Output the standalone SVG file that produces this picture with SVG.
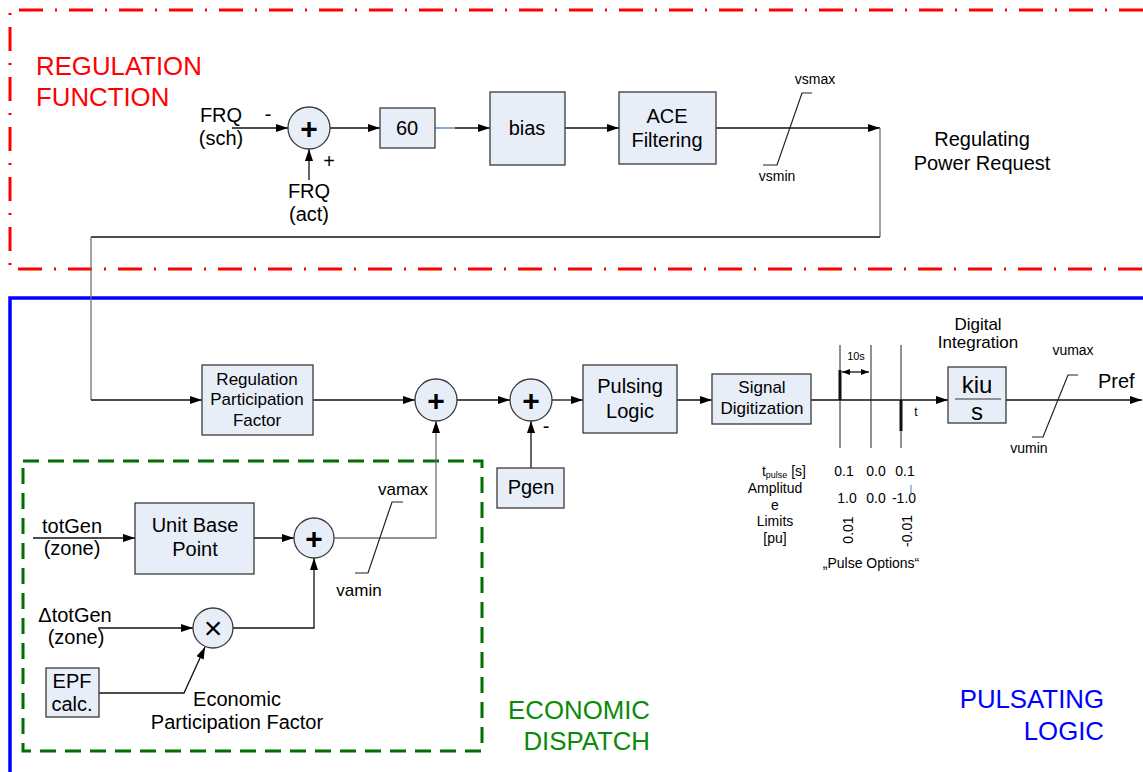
<svg xmlns="http://www.w3.org/2000/svg" width="1143" height="772" viewBox="0 0 1143 772">
<defs>
<marker id="arr" markerUnits="userSpaceOnUse" markerWidth="13" markerHeight="9" refX="12" refY="4" orient="auto"><path d="M0,0 L12,4 L0,8 z" fill="#000"/></marker>
<marker id="sarr" markerUnits="userSpaceOnUse" markerWidth="9" markerHeight="7" refX="8" refY="3" orient="auto-start-reverse"><path d="M0,0 L8,3 L0,6 z" fill="#000"/></marker>
<style>
text{font-family:"Liberation Sans",Arial,sans-serif;fill:#000}
.c{text-anchor:middle}
.f20{font-size:20px}
.f17{font-size:17px}
.f14{font-size:14px}
.box{fill:#e8eef8;stroke:#3a3a3a;stroke-width:1.3}
.ln{fill:none;stroke:#111;stroke-width:1.3}
.gl{fill:none;stroke:#707070;stroke-width:1.3}
.lim{fill:none;stroke:#222;stroke-width:1.2}
.plus{font-size:30px;font-weight:bold;text-anchor:middle}
.title{font-size:25.8px}
</style>
</defs>
<rect width="1143" height="772" fill="#fff"/>

<g id="frames">
<path d="M1143,10 H10 V269 H1143" fill="none" stroke="#ff0000" stroke-width="3" stroke-dasharray="24,12,2,12"/>
<path d="M10,772 V298 H1143" fill="none" stroke="#0000ff" stroke-width="3.5"/>
<rect x="23" y="461" width="459" height="290" fill="none" stroke="#006f00" stroke-width="3" stroke-dasharray="16,9"/>
<text class="title" x="36" y="75" style="fill:#ff0000">REGULATION</text>
<text class="title" x="36" y="106" style="fill:#ff0000">FUNCTION</text>
<text class="title" x="650" y="719" text-anchor="end" style="fill:#0a8a0a">ECONOMIC</text>
<text class="title" x="650" y="750" text-anchor="end" style="fill:#0a8a0a">DISPATCH</text>
<text class="title" x="1104" y="708" text-anchor="end" style="fill:#0000ff">PULSATING</text>
<text class="title" x="1104" y="740" text-anchor="end" style="fill:#0000ff">LOGIC</text>
</g>

<g id="connectors">
<path class="ln" d="M232,128 H288" marker-end="url(#arr)"/>
<path class="ln" d="M309,180 V149" marker-end="url(#arr)"/>
<path class="ln" d="M330,128 H380" marker-end="url(#arr)"/>
<path d="M435,128 H455" stroke="#4a7ebb" stroke-width="1.3"/>
<path class="ln" d="M455,128 H490" marker-end="url(#arr)"/>
<path class="ln" d="M565,128 H619" marker-end="url(#arr)"/>
<path class="ln" d="M716,128 H880" marker-end="url(#arr)"/>
<path class="gl" d="M880,128 V237"/>
<path class="ln" d="M880,237 H91"/>
<path class="gl" d="M91,237 V400"/>
<path class="ln" d="M91,400 H202" marker-end="url(#arr)"/>
<path class="ln" d="M313,400 H415" marker-end="url(#arr)"/>
<path class="ln" d="M457,400 H510" marker-end="url(#arr)"/>
<path class="ln" d="M552,400 H583" marker-end="url(#arr)"/>
<path class="ln" d="M531,468 V421" marker-end="url(#arr)"/>
<path class="ln" d="M677,400 H712" marker-end="url(#arr)"/>
<path class="ln" d="M811,400 H948" marker-end="url(#arr)"/>
<path class="ln" d="M1006,400 H1142" marker-end="url(#arr)"/>
<path class="gl" d="M334,538 H436 V421" marker-end="url(#arr)"/>
<path class="ln" d="M33,538 H135" marker-end="url(#arr)"/>
<path class="ln" d="M254,538 H294" marker-end="url(#arr)"/>
<path class="ln" d="M98,628 H193" marker-end="url(#arr)"/>
<path class="ln" d="M233,628 H314 V558" marker-end="url(#arr)"/>
<path class="ln" d="M99,693 H184 L205,647" marker-end="url(#arr)"/>
</g>

<g id="limiters">
<path class="lim" d="M812,93 H802 L777,165 H763"/>
<path class="lim" d="M1078,375 H1068 L1043,437 H1032"/>
<path class="lim" d="M403,502 H392 L368,573 H355"/>
<text class="c f14" x="815" y="84">vsmax</text>
<text class="c f14" x="777" y="181">vsmin</text>
<text class="c f14" x="1073" y="355">vumax</text>
<text class="c f14" x="1029" y="453">vumin</text>
<text class="c f17" x="403" y="495">vamax</text>
<text class="c f17" x="359" y="596">vamin</text>
</g>

<g id="frq-sch">
<text class="c f20" x="221" y="122">FRQ</text>
<text class="c f20" x="221" y="145">(sch)</text>
<text class="c f20" x="268" y="121">-</text>
</g>
<g id="frq-act">
<text class="c f20" x="309" y="198">FRQ</text>
<text class="c f20" x="309" y="221">(act)</text>
<text class="c f20" x="329" y="168">+</text>
</g>
<g id="sum1">
<circle class="box" cx="309" cy="128" r="21"/>
<text class="plus" x="309" y="138.5">+</text>
</g>
<g id="gain60">
<rect class="box" x="380" y="108" width="55" height="40"/>
<text class="c f20" x="407" y="135">60</text>
</g>
<g id="bias">
<rect class="box" x="490" y="92" width="75" height="73"/>
<text class="c f20" x="527" y="135">bias</text>
</g>
<g id="ace">
<rect class="box" x="619" y="92" width="97" height="72"/>
<text class="c f20" x="667" y="123">ACE</text>
<text class="c f20" x="667" y="147">Filtering</text>
</g>
<g id="reg-power-request">
<text class="c f20" x="982" y="146">Regulating</text>
<text class="c f20" x="982" y="170">Power Request</text>
</g>

<g id="rpf">
<rect class="box" x="202" y="365" width="111" height="70"/>
<text class="c f17" x="257" y="385">Regulation</text>
<text class="c f17" x="257" y="405">Participation</text>
<text class="c f17" x="257" y="426">Factor</text>
</g>
<g id="sum2">
<circle class="box" cx="436" cy="400" r="21"/>
<text class="plus" x="436" y="410.5">+</text>
</g>
<g id="sum3">
<circle class="box" cx="531" cy="400" r="21"/>
<text class="plus" x="531" y="410.5">+</text>
<text class="c f20" x="546" y="433">-</text>
</g>
<g id="pgen">
<rect class="box" x="497" y="468" width="67" height="40"/>
<text class="c f20" x="531" y="494">Pgen</text>
</g>
<g id="pulsing-logic">
<rect class="box" x="583" y="365" width="94" height="68"/>
<text class="c f20" x="630" y="393">Pulsing</text>
<text class="c f20" x="630" y="418">Logic</text>
</g>
<g id="signal-digitization">
<rect class="box" x="712" y="374" width="99" height="50"/>
<text class="c f17" x="762" y="393">Signal</text>
<text class="c f17" x="762" y="414">Digitization</text>
</g>
<g id="pulse-options">
<path d="M840,345 V448 M871,345 V448 M901,345 V448" stroke="#222" stroke-width="1"/>
<path d="M840,370 V400 M901,400 V431" stroke="#111" stroke-width="3"/>
<path class="ln" d="M842,372 H869" stroke-width="1.2" marker-start="url(#sarr)" marker-end="url(#sarr)"/>
<text class="c" x="856" y="360" font-size="11">10s</text>
<text class="c" x="916" y="416" font-size="12">t</text>
<text class="f14" x="806" y="476" text-anchor="end">t<tspan font-size="9" dy="2">pulse</tspan><tspan dy="-2"> [s]</tspan></text>
<text class="c f14" x="775" y="493">Amplitud</text>
<text class="c f14" x="775" y="510">e</text>
<text class="c f14" x="775" y="526">Limits</text>
<text class="c f14" x="775" y="543">[pu]</text>
<text class="c f14" x="844" y="476">0.1</text>
<text class="c f14" x="876" y="476">0.0</text>
<text class="c f14" x="905" y="476">0.1</text>
<text class="c f14" x="847" y="503">1.0</text>
<text class="c f14" x="876" y="503">0.0</text>
<text class="c f14" x="904" y="503">-1.0</text>
<path d="M911,485 V495" stroke="#4a7ebb" stroke-width="1"/>
<text class="c f14" transform="translate(853,530) rotate(-90)">0.01</text>
<text class="c f14" transform="translate(912,531) rotate(-90)">-0.01</text>
<text class="c f14" x="871" y="568">„Pulse Options“</text>
</g>
<g id="digital-integration">
<rect class="box" x="948" y="367" width="58" height="56"/>
<path d="M955,399 H1001" stroke="#707070" stroke-width="1.3"/>
<text class="c" x="977" y="393" font-size="24">kiu</text>
<text class="c" x="977" y="420" font-size="24">s</text>
<text class="c f17" x="978" y="330">Digital</text>
<text class="c f17" x="978" y="348">Integration</text>
</g>
<g id="pref">
<text class="f20" x="1098" y="388">Pref</text>
</g>

<g id="totgen">
<text class="c f20" x="72" y="533">totGen</text>
<text class="c f20" x="72" y="555">(zone)</text>
</g>
<g id="unit-base-point">
<rect class="box" x="135" y="503" width="119" height="71"/>
<text class="c f20" x="195" y="532">Unit Base</text>
<text class="c f20" x="195" y="556">Point</text>
</g>
<g id="sum4">
<circle class="box" cx="314" cy="538" r="20"/>
<text class="plus" x="314" y="548.5">+</text>
</g>
<g id="dtotgen">
<text class="c f20" x="75" y="622">ΔtotGen</text>
<text class="c f20" x="76" y="644">(zone)</text>
</g>
<g id="mult">
<circle class="box" cx="213" cy="628" r="20"/>
<text class="c" x="213" y="639" font-size="32" style="font-weight:300">×</text>
</g>
<g id="epf">
<rect class="box" x="46" y="668" width="53" height="49"/>
<text class="c f20" x="72" y="688">EPF</text>
<text class="c f20" x="72" y="711">calc.</text>
</g>
<g id="epf-label">
<text class="c f20" x="237" y="706">Economic</text>
<text class="c f20" x="237" y="729">Participation Factor</text>
</g>
</svg>
